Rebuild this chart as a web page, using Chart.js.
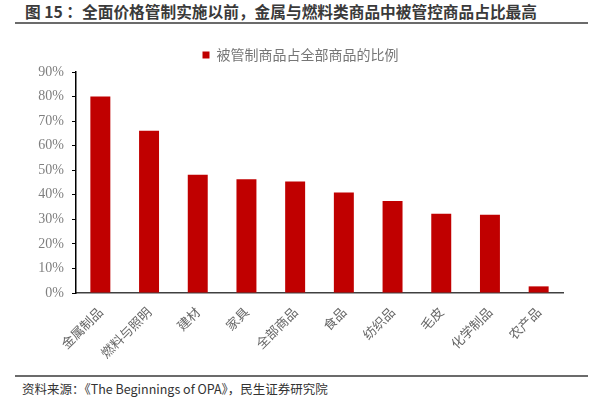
<html lang="zh">
<head>
    <meta charset="UTF-8">
    <title>被管制商品占全部商品的比例</title>
    <script src="https://cdn.jsdelivr.net/npm/chart.js@4.4.0/dist/chart.umd.min.js"></script>
    <style>
        body { margin: 0; width: 601px; height: 401px; background: #fff; position: relative; overflow: hidden; }
        .title {
            position: absolute; left: 25px; top: 0px;
            font-family: "Noto Sans CJK SC", sans-serif; font-weight: bold;
            font-size: 15.7px; color: #3a3a3a; white-space: nowrap;
        }
        .rule { position: absolute; left: 15px; width: 573px; height: 0; border-top: 2px solid #6b6b6b; }
        .source {
            position: absolute; left: 22px; top: 379px;
            font-family: "Noto Sans CJK SC", sans-serif; font-size: 12.5px; color: #333; white-space: nowrap;
        }
        #wrap { position: absolute; left: 0; top: 30px; width: 601px; height: 340px; }
    </style>
</head>
<body>
    <div class="title">图 15 ：全面价格管制实施以前，金属与燃料类商品中被管控商品占比最高</div>
    <div class="rule" style="top:22px"></div>
    <div id="wrap"><canvas id="graph"></canvas></div>
    <div class="rule" style="top:375px"></div>
    <div class="source">资料来源：《The Beginnings of OPA》，民生证券研究院</div>

    <script>
        const categories = ['金属制品', '燃料与照明', '建材', '家具', '全部商品', '食品', '纺织品', '毛皮', '化学制品', '农产品'];
        const seriesName = '被管制商品占全部商品的比例';
        const shares = [80.0, 66.1, 48.2, 46.3, 45.4, 40.9, 37.5, 32.3, 31.9, 2.7];
        const yTicks = [0, 10, 20, 30, 40, 50, 60, 70, 80, 90];

        const ctx = document.getElementById('graph').getContext('2d');
        const myChart = new Chart(ctx, {
            type: 'bar',
            data: {
                labels: categories,
                datasets: [{
                    label: seriesName,
                    data: shares,
                    backgroundColor: '#c00000',
                    borderWidth: 0,
                    categoryPercentage: 1,
                    barPercentage: 0.41
                }]
            },
            options: {
                responsive: true,
                maintainAspectRatio: false,
                animation: false,
                // symmetric side padding keeps the legend centred on the page
                layout: { padding: { top: 8, right: 38, bottom: 0, left: 38 } },
                plugins: {
                    tooltip: { enabled: false },
                    legend: {
                        position: 'top',
                        labels: {
                            boxWidth: 7, boxHeight: 7, padding: 10,
                            color: '#767676',
                            font: { family: '"Noto Sans CJK SC"', size: 14 }
                        }
                    }
                },
                scales: {
                    x: {
                        grid: { display: false, drawTicks: false },
                        border: { color: '#404040', width: 1.5 },
                        ticks: {
                            color: '#666',
                            font: { family: '"Noto Sans CJK SC"', size: 13 },
                            maxRotation: 45, minRotation: 45, padding: 11
                        },
                        afterFit: s => { s.height = 77; }
                    },
                    y: {
                        min: 0, max: 90,
                        afterBuildTicks: s => { s.ticks = yTicks.map(v => ({ value: v })); },
                        grid: { drawOnChartArea: false, drawTicks: true, tickLength: 4, color: '#000' },
                        border: { color: '#000', width: 1.5 },
                        ticks: {
                            color: '#7f7f7f',
                            font: { family: '"Liberation Serif"', size: 14 },
                            padding: 8,
                            callback: v => v + '%'
                        },
                        afterFit: s => { s.width = 38; }
                    }
                }
            }
        });
    </script>
</body>
</html>
